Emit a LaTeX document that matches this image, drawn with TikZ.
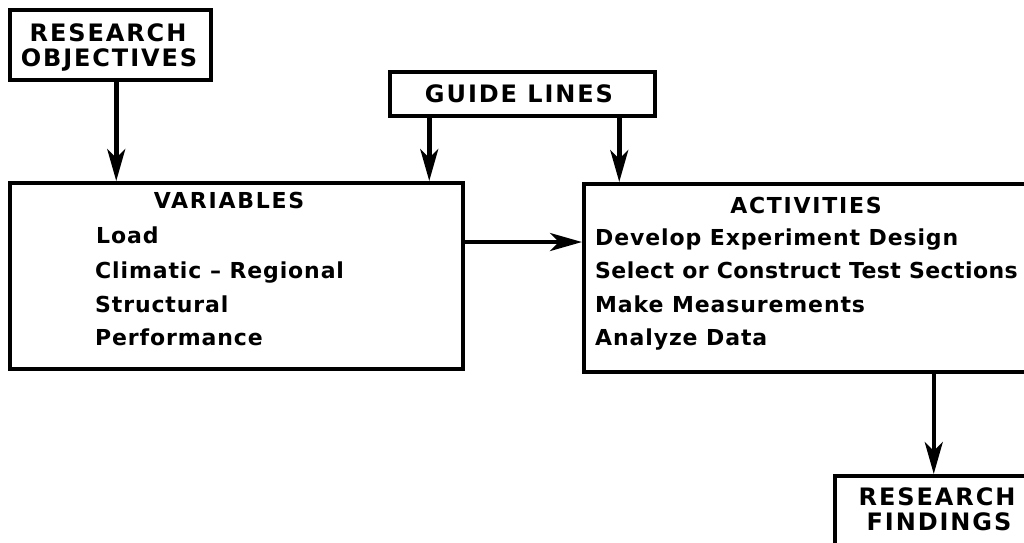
\documentclass[tikz,border=0pt]{standalone}
\usepackage{fontspec}
\setmainfont{DejaVu Sans}
\newfontfamily\capsfont[LetterSpace=8]{DejaVu Sans Bold}
\newfontfamily\bodyfont[LetterSpace=4]{DejaVu Sans Bold}
\newfontfamily\tightfont[LetterSpace=2]{DejaVu Sans Bold}
\usetikzlibrary{arrows.meta}
\begin{document}
\begin{tikzpicture}[x=1pt,y=-1pt,
  box/.style={draw, line width=3.5pt, rectangle, inner sep=0pt, anchor=north west},
  arr/.style={line width=4.5pt, -{Stealth[length=32pt,width=18pt,inset=9pt]}},
  lab/.style={font=\fontsize{24}{28}\capsfont, inner sep=0pt, anchor=base},
  head/.style={font=\fontsize{22}{26}\capsfont, inner sep=0pt, anchor=base},
  item/.style={font=\fontsize{22}{26}\bodyfont, inner sep=0pt, anchor=base west},
  tightitem/.style={font=\fontsize{22}{26}\tightfont, inner sep=0pt, anchor=base west}]
\clip (0,0) rectangle (1024,542);
\useasboundingbox (0,0) rectangle (1024,542);
\fill[white] (0,0) rectangle (1024,542);
% boxes
\node[box, minimum width=201pt, minimum height=70pt] (obj) at (8,8) {};
\node[box, minimum width=265pt, minimum height=44pt] (guide) at (388,70) {};
\node[box, minimum width=453pt, minimum height=186pt] (var) at (8,181) {};
\node[box, minimum width=450pt, minimum height=188pt] (act) at (582,182) {};
\node[box, minimum width=210pt, minimum height=90pt] (find) at (833,474) {};
% texts
\node[lab] (t-obj1) at (108,41) {RESEARCH};
\node[lab] (t-obj2) at (109,66) {OBJECTIVES};
\node[lab] (t-guide) at (519,102) {GUIDE LINES};
\node[head] (t-var) at (229,208) {VARIABLES};
\node[item] (v1) at (96,243) {Load};
\node[item] (v2) at (95,278) {Climatic – Regional};
\node[item] (v3) at (95,312) {Structural};
\node[item] (v4) at (95,345) {Performance};
\node[head] (t-act) at (806,213) {ACTIVITIES};
\node[item] (a1) at (595,245) {Develop Experiment Design};
\node[tightitem] (a2) at (595,278) {Select or Construct Test Sections};
\node[item] (a3) at (595,312) {Make Measurements};
\node[item] (a4) at (595,345) {Analyze Data};
\node[lab] (t-find1) at (937,505) {RESEARCH};
\node[lab] (t-find2) at (939,530) {FINDINGS};
% connectors
\coordinate (hy) at (0,242);
\draw[arr] ([xshift=6pt]obj.south) -- ([xshift=6pt]obj.south |- var.north);
\draw[arr] ([xshift=-93pt]guide.south) -- ([xshift=-93pt]guide.south |- var.north);
\draw[arr] ([xshift=97pt]guide.south) -- ([xshift=97pt]guide.south |- act.north);
\draw[arr] (var.east |- hy) -- (act.west |- hy);
\draw[arr] ([xshift=-6pt]find.north |- act.south) -- ([xshift=-6pt]find.north);
\end{tikzpicture}
\end{document}
